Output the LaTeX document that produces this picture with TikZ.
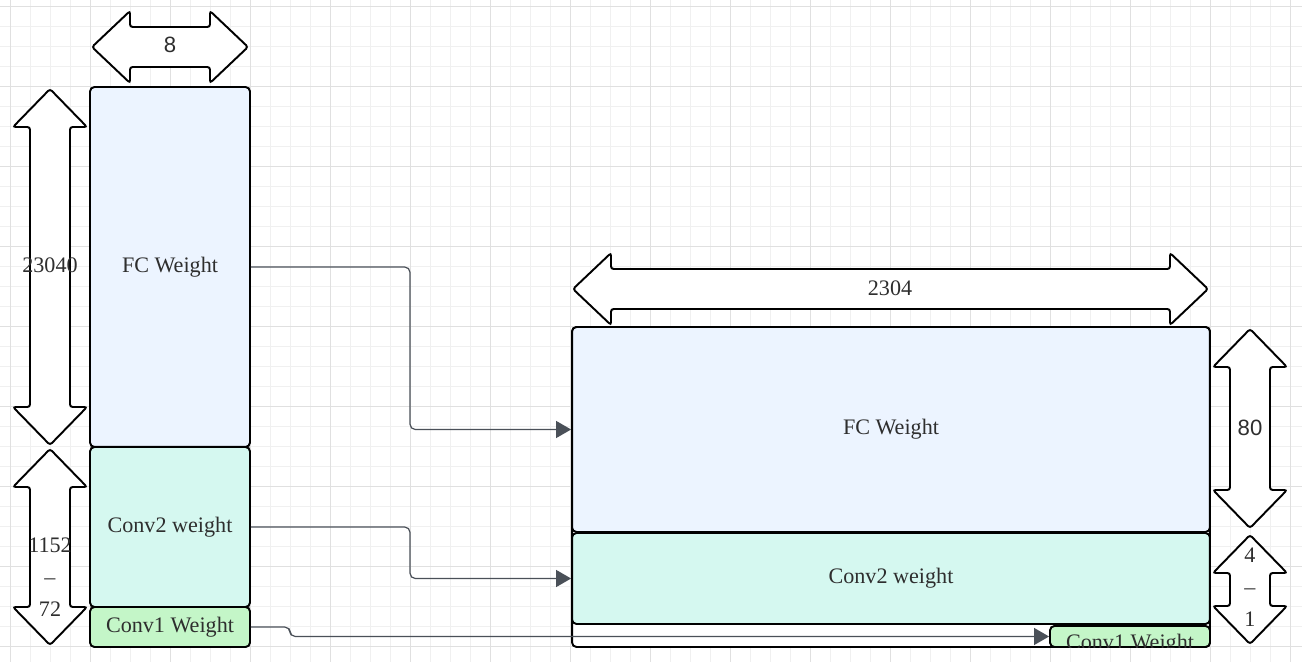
\documentclass[tikz,border=0pt]{standalone}
\usepackage{fontspec}
\setmainfont{Liberation Serif}
\newfontfamily\dimsans{Liberation Sans}
\usetikzlibrary{arrows.meta, positioning}
\definecolor{fcblue}{HTML}{ECF4FF}
\definecolor{convmint}{HTML}{D5F8F0}
\definecolor{convgreen}{HTML}{C4F6C8}
\definecolor{linkgray}{HTML}{4A5058}
\definecolor{labelgray}{HTML}{2E2E2E}
\definecolor{gridminor}{HTML}{F0F0F0}
\definecolor{gridmajor}{HTML}{E0E0E0}

% block double arrows, sizes in px
\newcommand{\dimarrowv}[3]{% centre x, top tip, bottom tip
  \draw[dimarrow] (#1,#2) -- ({#1+37},{#2+38}) -- ({#1+20},{#2+38}) -- ({#1+20},{#3-38})
    -- ({#1+37},{#3-38}) -- (#1,#3) -- ({#1-37},{#3-38}) -- ({#1-20},{#3-38})
    -- ({#1-20},{#2+38}) -- ({#1-37},{#2+38}) -- cycle;}
\newcommand{\dimarrowh}[3]{% centre y, left tip, right tip
  \draw[dimarrow] (#2,#1) -- ({#2+38},{#1-36}) -- ({#2+38},{#1-20}) -- ({#3-38},{#1-20})
    -- ({#3-38},{#1-36}) -- (#3,#1) -- ({#3-38},{#1+36}) -- ({#3-38},{#1+20})
    -- ({#2+38},{#1+20}) -- ({#2+38},{#1+36}) -- cycle;}

\begin{document}
\begin{tikzpicture}[
        x=0.02cm, y=-0.02cm,
        block/.style={draw, line width=1.1pt, rounded corners=2.5pt, fill=#1,
                      text=labelgray, font=\fontsize{12.6}{15}\selectfont, inner sep=0pt},
        dimarrow/.style={draw, line width=1.1pt, fill=white, rounded corners=1.5pt},
        dimlabel/.style={text=labelgray, font=\fontsize{12.6}{18.2}\selectfont,
                         align=center, inner sep=0pt},
        link/.style={draw=linkgray, line width=0.7pt, rounded corners=3pt,
                     -{Triangle[length=0.3cm, width=0.34cm]}},
    ]
        \useasboundingbox (0,0) rectangle (1302,662);

        %--- grid ---
        \foreach \gx in {10,30,...,1290} \draw[gridminor, line width=0.45pt] (\gx,0) -- (\gx,662);
        \foreach \gy in {6,26,...,646} \draw[gridminor, line width=0.45pt] (0,\gy) -- (1302,\gy);
        \foreach \gx in {10,90,...,1290} \draw[gridmajor, line width=0.5pt] (\gx,0) -- (\gx,662);
        \foreach \gy in {6,86,...,646} \draw[gridmajor, line width=0.5pt] (0,\gy) -- (1302,\gy);

        %--- left column ---
        \node[block=fcblue, minimum width=3.2cm, minimum height=7.2cm]    (lfc)    at (170,267) {FC Weight};
        \node[block=convmint, minimum width=3.2cm, minimum height=3.2cm]  (lconv2) at (170,527) {Conv2 weight};
        \node[block=convgreen, minimum width=3.2cm, minimum height=0.8cm] (lconv1) at (170,627) {Conv1 Weight};

        \dimarrowh{47}{92}{248}
        \node[dimlabel] (dwidth) at (170,45) {\dimsans 8};
        \dimarrowv{50}{89}{445}
        \node[dimlabel] (dfc) at (50,265) {23040};
        \dimarrowv{50}{449}{645}
        \node[dimlabel] (dconv) at (50,577) {1152\\--\\72};

        %--- right block ---
        \node[block=white, minimum width=12.76cm, minimum height=6.4cm]    (rall)   at (891,487) {};
        \node[block=fcblue, minimum width=12.76cm, minimum height=4.1cm]   (rfc)    at (891,429.5) {FC Weight};
        \node[block=convmint, minimum width=12.76cm, minimum height=1.82cm] (rconv2) at (891,578.5) {Conv2 weight};
        \node[block=convgreen, minimum width=3.2cm, minimum height=0.42cm] (rconv1) at (1130,636.5) {};
        \begin{scope}
            \clip (1050,620) rectangle (1210,647.5);
            \node[dimlabel, anchor=base] (rconv1txt) at (1130,649) {Conv1 Weight};
        \end{scope}

        \dimarrowh{289}{573}{1208}
        \node[dimlabel] (dcols) at (890,288) {2304};
        \dimarrowv{1250}{329}{528}
        \node[dimlabel] (drows) at (1250,428) {\dimsans 80};
        \dimarrowv{1250}{535}{644}
        \node[dimlabel] (drest) at (1250,587) {4\\--\\1};

        %--- links ---
        \draw[link] (lfc.east)    -- (410,267) |- (rfc.west);
        \draw[link] (lconv2.east) -- (410,527) |- (rconv2.west);
        \draw[link] (lconv1.east) -- (290,627) |- (rconv1.west);
    \end{tikzpicture}
\end{document}
